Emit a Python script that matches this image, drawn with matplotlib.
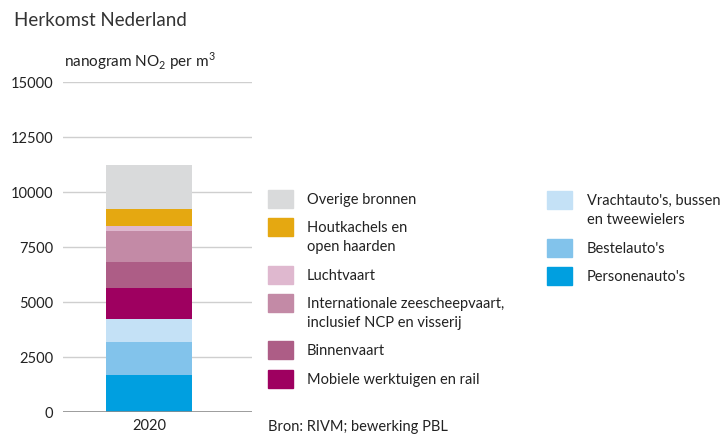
import matplotlib
matplotlib.use('Agg')
import matplotlib.pyplot as plt
from matplotlib.patches import Rectangle

plt.rcParams['font.family'] = ['Lato', 'DejaVu Sans']
plt.rcParams['mathtext.fontset'] = 'custom'
plt.rcParams['mathtext.rm'] = 'Lato'

# data (bottom -> top)
jaar = ['2020']
bronnen = ["Personenauto's", "Bestelauto's", "Vrachtauto's, bussen\nen tweewielers",
           "Mobiele werktuigen en rail", "Binnenvaart",
           "Internationale zeescheepvaart,\ninclusief NCP en visserij",
           "Luchtvaart", "Houtkachels en\nopen haarden", "Overige bronnen"]
waarden = [1680, 1485, 1060, 1395, 1180, 1440, 230, 760, 2000]
kleuren = ['#009fe0', '#82c3eb', '#c4e1f6', '#9e0060', '#ad5d86',
           '#c38aa6', '#dfb8cf', '#e5a811', '#d9dadb']
yticks = [0, 2500, 5000, 7500, 10000, 12500, 15000]

W, H = 724, 435
fig = plt.figure(figsize=(W / 100, H / 100), dpi=100)
ax = fig.add_axes([63 / W, 1 - 413 / H, 189 / W, 330 / H])

bottom = 0
for v, c in zip(waarden, kleuren):
    ax.bar(0, v, width=0.8, bottom=bottom, color=c, zorder=3)
    bottom += v

ax.set_ylim(0, 15000)
ax.set_xlim(-0.8, 0.958)
ax.set_yticks(yticks)
ax.set_yticklabels([str(t) for t in yticks], fontsize=10.5, color='#222222')
ax.set_xticks([0])
ax.set_xticklabels(jaar, fontsize=10.5, color='#222222')
ax.tick_params(length=0)
ax.tick_params(axis='x', pad=4)
ax.tick_params(axis='y', pad=7)
for s in ax.spines.values():
    s.set_visible(False)
for t in yticks[1:]:
    ax.axhline(t, color='#cfcfcf', lw=1, zorder=1)
ax.axhline(0, color='#8c8c8c', lw=1.2, zorder=4)

fig.text(14 / W, 1 - 20 / H, 'Herkomst Nederland', fontsize=13.5, color='#333333', va='center')
fig.text(64 / W, 1 - 61 / H, r'nanogram NO$_2$ per m$^3$', fontsize=11, color='#222222', va='center')

# legend, two columns
kol1 = [8, 7, 6, 5, 4, 3]
kol2 = [2, 1, 0]
y1 = [200, 228, 276, 304, 351, 380]
y2 = [201, 249, 277]
for idx, yy in zip(kol1, y1):
    fig.add_artist(Rectangle((268 / W, 1 - (yy + 9) / H), 25 / W, 18 / H,
                             color=kleuren[idx], transform=fig.transFigure))
    fig.text(307 / W, 1 - (yy - 7) / H, bronnen[idx], fontsize=10.5, color='#222222',
             va='top', linespacing=1.45, transform=fig.transFigure)
for idx, yy in zip(kol2, y2):
    fig.add_artist(Rectangle((547 / W, 1 - (yy + 9) / H), 25 / W, 18 / H,
                             color=kleuren[idx], transform=fig.transFigure))
    fig.text(587 / W, 1 - (yy - 7) / H, bronnen[idx], fontsize=10.5, color='#222222',
             va='top', linespacing=1.45, transform=fig.transFigure)

fig.text(268 / W, 1 - 427 / H, 'Bron: RIVM; bewerking PBL', fontsize=10.5, color='#222222', va='center')

fig.savefig('out.png', dpi=100)
